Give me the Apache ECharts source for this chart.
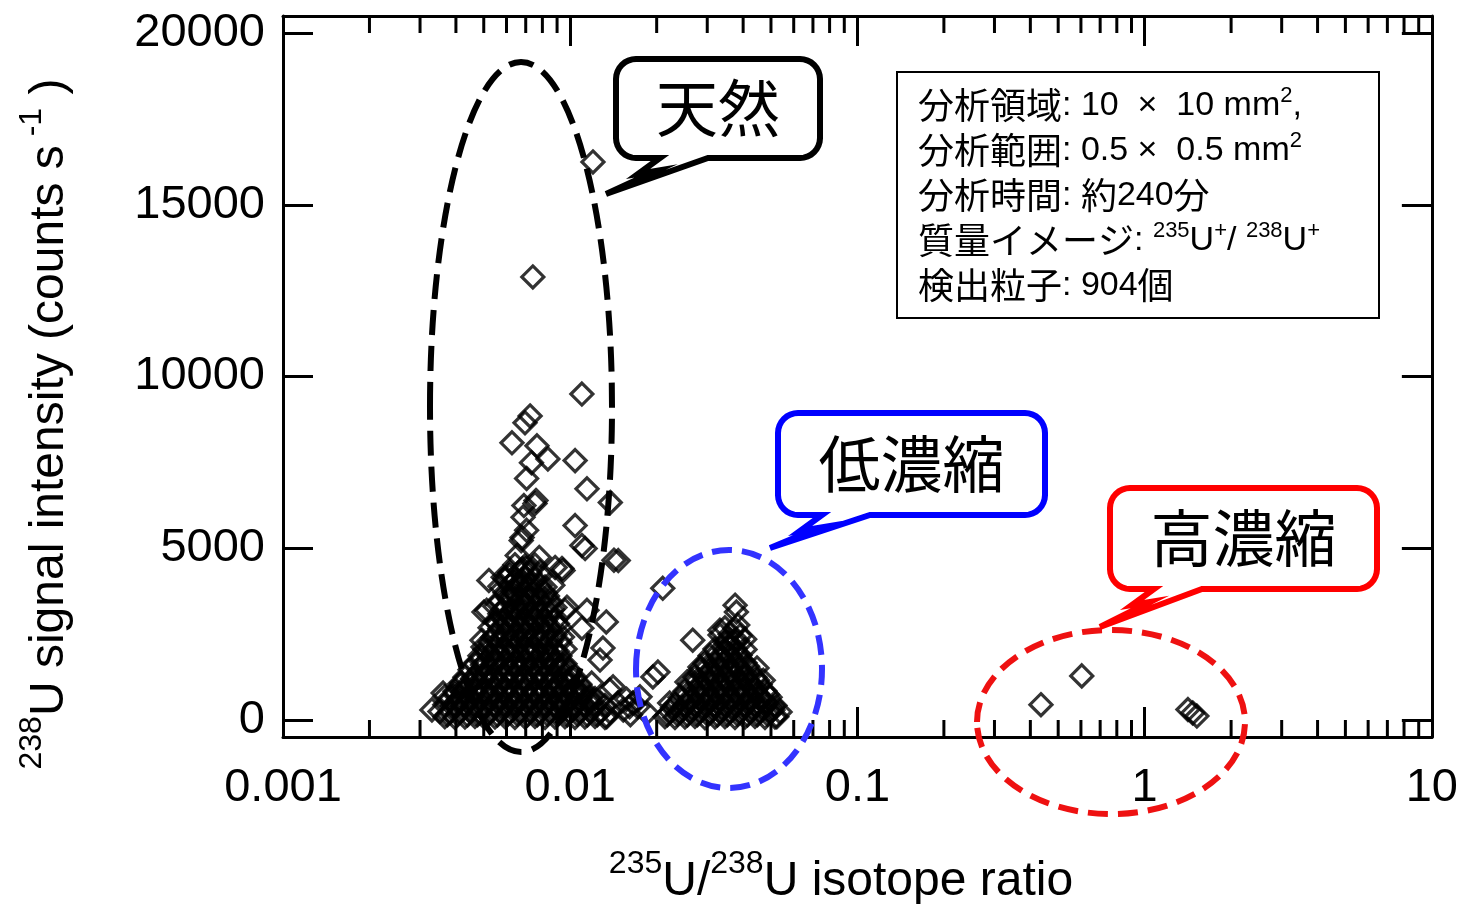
<!DOCTYPE html>
<html><head><meta charset="utf-8">
<script src="https://cdn.jsdelivr.net/npm/echarts@6/dist/echarts.min.js"></script>
<style>html,body{margin:0;padding:0;background:#fff}#c{width:1461px;height:904px}</style>
</head><body><div id="c"></div>
<script>
const xTickLabels = ['0.001', '0.01', '0.1', '1', '10'];
const yTickLabels = ['0', '5000', '10000', '15000', '20000'];

// natural uranium particles: scattered outliers
const naturalOutliers = [
  [0.0120,16250],[0.00741,12900],[0.01098,9490],[0.00725,8850],[0.00696,8650],[0.00627,8070],
  [0.00766,7980],[0.00836,7600],[0.0104,7550],[0.00733,7490],[0.00705,7030],[0.01144,6730],
  [0.00760,6390],[0.00754,6300],[0.01379,6330],[0.00690,6240],[0.00685,5900],[0.0104,5660],
  [0.00705,5520],[0.00680,5310],[0.01127,4990],[0.01098,5080],[0.00675,5220],[0.0078,4730],
  [0.00654,4790],[0.01470,4640],[0.01420,4650],[0.00936,4410],[0.00886,4440],[0.00613,4210],
  [0.00944,4350],[0.0087,3920],[0.00521,4060],[0.00584,4150],[0.00501,3140],[0.00512,3190],
  [0.00974,3280],[0.00959,3190],[0.01144,3190],[0.01098,2670],[0.01335,2850],[0.01300,2090],
  [0.00497,2120],[0.00493,2320],[0.00485,1740],[0.0127,1740],[0.01188,1070],[0.0141,960],
  [0.01371,870],[0.01463,490],[0.01651,490],[0.0153,290],[0.0134,90],[0.00330,290],
  [0.00361,780],[0.00420,1070],[0.00366,680],[0.0157,600],[0.0172,380],[0.0185,200],[0.0162,150]
];
// natural uranium particles: dense core
const naturalCore = [
  [0.00642,4520],[0.00696,4480],[0.00754,4510],
  [0.00617,4290],[0.00669,4320],[0.00724,4280],[0.00785,4310],
  [0.00593,4110],[0.00642,4080],[0.00696,4120],[0.00754,4090],
  [0.00569,3890],[0.00617,3920],[0.00669,3880],[0.00724,3910],[0.00785,3900],[0.00817,3870],
  [0.00593,3700],[0.00642,3680],[0.00696,3710],[0.00754,3670],[0.00817,3700],
  [0.00569,3480],[0.00617,3500],[0.00669,3470],[0.00724,3510],[0.00785,3490],[0.00850,3460],
  [0.00547,3300],[0.00593,3270],[0.00642,3290],[0.00696,3310],[0.00754,3280],[0.00817,3300],[0.00885,3270],
  [0.00569,3090],[0.00617,3070],[0.00669,3100],[0.00724,3060],[0.00785,3080],[0.00850,3090],
  [0.00547,2870],[0.00593,2890],[0.00642,2860],[0.00696,2900],[0.00754,2880],[0.00817,2870],[0.00885,2890],
  [0.00526,2680],[0.00569,2660],[0.00617,2690],[0.00669,2670],[0.00724,2650],[0.00785,2680],[0.00850,2660],[0.00921,2690],
  [0.00547,2460],[0.00593,2480],[0.00642,2450],[0.00696,2490],[0.00754,2470],[0.00817,2460],[0.00885,2480],
  [0.00526,2270],[0.00569,2250],[0.00617,2280],[0.00669,2260],[0.00724,2240],[0.00785,2270],[0.00850,2250],[0.00921,2260],
  [0.00505,2050],[0.00547,2070],[0.00593,2040],[0.00642,2080],[0.00696,2060],[0.00754,2050],[0.00817,2070],[0.00885,2040],[0.00959,2060],
  [0.00485,1870],[0.00526,1850],[0.00569,1880],[0.00617,1860],[0.00669,1840],[0.00724,1870],[0.00785,1850],[0.00850,1880],[0.00921,1860],
  [0.00466,1640],[0.00505,1660],[0.00547,1650],[0.00593,1630],[0.00642,1670],[0.00696,1650],[0.00754,1640],[0.00817,1660],[0.00885,1650],[0.00959,1630],
  [0.00448,1460],[0.00485,1440],[0.00526,1450],[0.00569,1470],[0.00617,1430],[0.00669,1450],[0.00724,1460],[0.00785,1440],[0.00850,1450],[0.00921,1470],[0.00998,1440],
  [0.00430,1240],[0.00466,1260],[0.00505,1250],[0.00547,1230],[0.00593,1270],[0.00642,1250],[0.00696,1240],[0.00754,1260],[0.00817,1250],[0.00885,1230],[0.00959,1260],[0.01039,1240],
  [0.00413,1050],[0.00448,1030],[0.00485,1040],[0.00526,1060],[0.00569,1020],[0.00617,1040],[0.00669,1050],[0.00724,1030],[0.00785,1040],[0.00850,1060],[0.00921,1030],[0.00998,1050],[0.01081,1040],
  [0.00397,830],[0.00430,850],[0.00466,840],[0.00505,820],[0.00547,860],[0.00593,840],[0.00642,830],[0.00696,850],[0.00754,840],[0.00817,820],[0.00885,850],[0.00959,840],[0.01039,830],[0.01125,850],
  [0.00382,650],[0.00413,630],[0.00448,640],[0.00485,660],[0.00526,620],[0.00569,640],[0.00617,650],[0.00669,630],[0.00724,640],[0.00785,660],[0.00850,630],[0.00921,640],[0.00998,650],[0.01081,630],[0.01172,640],[0.01220,620],
  [0.00366,440],[0.00397,420],[0.00430,430],[0.00466,450],[0.00505,410],[0.00547,430],[0.00593,440],[0.00642,420],[0.00696,430],[0.00754,450],[0.00817,420],[0.00885,430],[0.00959,440],[0.01039,420],[0.01125,430],[0.01220,450],[0.01321,420],
  [0.00352,240],[0.00382,220],[0.00413,230],[0.00448,250],[0.00485,210],[0.00526,230],[0.00569,240],[0.00617,220],[0.00669,230],[0.00724,250],[0.00785,220],[0.00850,230],[0.00921,240],[0.00998,220],[0.01081,230],[0.01172,250],[0.01270,220],[0.01375,230],
  [0.00366,90],[0.00397,70],[0.00430,80],[0.00466,100],[0.00505,60],[0.00547,80],[0.00593,90],[0.00642,70],[0.00696,80],[0.00754,100],[0.00817,70],[0.00885,80],[0.00959,90],[0.01039,70],[0.01125,80],[0.01220,100],[0.01321,70],
  [0.00669,4000],[0.00724,3790],[0.00617,3600],[0.00696,3390],[0.00642,3180],[0.00754,2980],[0.00593,2780],[0.00696,2570],[0.00785,2360],[0.00617,2160],
  [0.00724,1960],[0.00547,1760],[0.00850,1760],[0.00642,1550],[0.00921,1550],[0.00505,1350],[0.00785,1350],[0.00466,1150],[0.00696,1150],[0.00959,1150],
  [0.00430,940],[0.00593,940],[0.00885,940],[0.01039,940],[0.00397,740],[0.00526,740],[0.00754,740],[0.01081,740],[0.00413,530],[0.00642,530],[0.00921,530],[0.01172,530],
  [0.00682,4400],[0.00739,4400],
  [0.00630,4000],[0.00682,4010],[0.00739,3990],
  [0.00605,3600],[0.00655,3610],[0.00710,3590],[0.00769,3600],[0.00833,3610],
  [0.00581,3200],[0.00630,3190],[0.00682,3210],[0.00739,3200],[0.00801,3190],[0.00868,3210],
  [0.00558,2800],[0.00605,2810],[0.00655,2790],[0.00710,2800],[0.00769,2810],[0.00833,2790],[0.00903,2800],
  [0.00537,2400],[0.00581,2410],[0.00630,2390],[0.00682,2400],[0.00739,2410],[0.00801,2390],[0.00868,2400],[0.00940,2410],
  [0.00515,2000],[0.00558,1990],[0.00605,2010],[0.00655,2000],[0.00710,1990],[0.00769,2010],[0.00833,2000],[0.00903,1990],
  [0.00495,1600],[0.00537,1610],[0.00581,1590],[0.00630,1600],[0.00682,1610],[0.00739,1590],[0.00801,1600],[0.00868,1610],[0.00940,1590],
  [0.00457,1200],[0.00495,1210],[0.00537,1190],[0.00581,1200],[0.00630,1210],[0.00682,1190],[0.00739,1200],[0.00801,1210],[0.00868,1190],[0.00940,1200],[0.01018,1210],
  [0.00422,800],[0.00457,810],[0.00495,790],[0.00537,800],[0.00581,810],[0.00630,790],[0.00682,800],[0.00739,810],[0.00801,790],[0.00868,800],[0.00940,810],[0.01018,790],[0.01103,800],
  [0.00389,400],[0.00422,410],[0.00457,390],[0.00495,400],[0.00537,410],[0.00581,390],[0.00630,400],[0.00682,410],[0.00739,390],[0.00801,400],[0.00868,410],[0.00940,390],[0.01018,400],[0.01103,410],[0.01195,390],
  [0.00374,150],[0.00405,160],[0.00439,140],[0.00476,150],[0.00515,160],[0.00558,140],[0.00605,150],[0.00655,160],[0.00710,140],[0.00769,150],[0.00833,160],[0.00903,140],[0.00978,150],[0.01060,160],[0.01148,140],[0.01244,150]
];
// low-enriched particles
const lowOutliers = [
  [0.0210,3830],[0.0375,3340],[0.0379,3140],[0.0383,2760],[0.0332,2610],[0.0267,2320],
  [0.0447,1510],[0.0283,1540],[0.0202,1390],[0.0194,1250],[0.0222,490],[0.0175,670],
  [0.0161,380],[0.0508,290],[0.0524,90],[0.0405,2350],[0.0255,1100],[0.0470,1150]
];
const lowCore = [
  [0.03458,2680],[0.03747,2650],
  [0.03324,2470],[0.03602,2490],[0.03902,2450],
  [0.03458,2260],[0.03747,2270],
  [0.03192,2060],[0.03458,2040],[0.03747,2070],[0.04060,2050],
  [0.03068,1870],[0.03324,1850],[0.03602,1860],[0.03902,1880],
  [0.02946,1640],[0.03192,1660],[0.03458,1650],[0.03747,1630],[0.04060,1660],
  [0.02831,1460],[0.03068,1440],[0.03324,1450],[0.03602,1470],[0.03902,1440],[0.04228,1450],
  [0.02719,1240],[0.02946,1260],[0.03192,1250],[0.03458,1230],[0.03747,1270],[0.04060,1250],[0.04399,1240],
  [0.02613,1050],[0.02831,1030],[0.03068,1040],[0.03324,1060],[0.03602,1020],[0.03902,1040],[0.04228,1050],[0.04581,1030],
  [0.02509,830],[0.02719,850],[0.02946,840],[0.03192,820],[0.03458,860],[0.03747,840],[0.04060,830],[0.04399,850],[0.04766,840],
  [0.02412,650],[0.02613,630],[0.02831,640],[0.03068,660],[0.03324,620],[0.03602,640],[0.03902,650],[0.04228,630],[0.04581,640],[0.04964,660],
  [0.02316,440],[0.02509,420],[0.02719,430],[0.02946,450],[0.03192,410],[0.03458,430],[0.03747,440],[0.04060,420],[0.04399,430],[0.04766,450],[0.05164,420],
  [0.02226,240],[0.02412,220],[0.02613,230],[0.02831,250],[0.03068,210],[0.03324,230],[0.03602,240],[0.03902,220],[0.04228,230],[0.04581,250],[0.04964,220],[0.05378,230],
  [0.02138,90],[0.02316,70],[0.02509,80],[0.02719,100],[0.02946,60],[0.03192,80],[0.03458,90],[0.03747,70],[0.04060,80],[0.04399,100],[0.04766,70],[0.05164,80],
  [0.03602,2170],[0.03324,1760],[0.03902,1760],[0.03068,1350],[0.03602,1350],[0.04060,1350],[0.02831,940],[0.03324,940],[0.03902,940],[0.04399,940],
  [0.02613,530],[0.03068,530],[0.03602,530],[0.04228,530],[0.04766,530],
  [0.03528,2300],[0.03823,2310],
  [0.03256,1950],[0.03528,1960],[0.03823,1940],
  [0.03005,1550],[0.03256,1560],[0.03528,1540],[0.03823,1550],[0.04142,1560],
  [0.02774,1150],[0.03005,1160],[0.03256,1140],[0.03528,1150],[0.03823,1160],[0.04142,1140],[0.04488,1150],
  [0.02560,750],[0.02774,760],[0.03005,740],[0.03256,750],[0.03528,760],[0.03823,740],[0.04142,750],[0.04488,760],[0.04862,740],
  [0.02271,350],[0.02461,360],[0.02666,340],[0.02888,350],[0.03130,360],[0.03391,340],[0.03675,350],[0.03981,360],[0.04313,340],[0.04674,350],[0.05064,360],
  [0.02181,150],[0.02363,160],[0.02560,140],[0.02774,150],[0.03005,160],[0.03256,140],[0.03528,150],[0.03823,160],[0.04142,140],[0.04488,150],[0.04862,160]
];
// high-enriched particles
const highEnriched = [[0.4355,440],[0.604,1280],[1.415,300],[1.47,200],[1.52,110]];

const minorMultipliers = [2, 3, 4, 5, 6, 7, 8, 9];
const decades = [0.001, 0.01, 0.1, 1];

const FONT = "'Liberation Sans', Arial, sans-serif";
const CJK = "'Noto Sans CJK JP', sans-serif";

const chart = echarts.init(document.getElementById('c'), null, {renderer: 'canvas'});

const axisLine = {show: true, onZero: false, lineStyle: {color: '#000', width: 3}};
const markerStyle = {color: 'rgba(0,0,0,0)', borderColor: '#000', borderWidth: 3.2};
function scatter(name, data) {
  return {name, type: 'scatter', data, symbol: 'diamond', symbolSize: 22,
    itemStyle: markerStyle, emphasis: {disabled: true}, silent: true, z: 3};
}

const option = {
  animation: false,
  backgroundColor: '#fff',
  grid: {left: 283, right: 29, top: 16, bottom: 167, containLabel: false},
  xAxis: [
    {type: 'log', logBase: 10, min: 0.001, max: 10, position: 'bottom',
     axisLine, splitLine: {show: false},
     axisTick: {show: true, inside: true, length: 30, lineStyle: {color: '#000', width: 3}},
     axisLabel: {show: true, margin: 28, color: '#000', fontSize: 47, fontFamily: FONT,
       formatter: v => { const i = Math.round(Math.log10(v)) + 3; return xTickLabels[i] ?? ''; }}},
    {type: 'log', logBase: 10, min: 0.001, max: 10, position: 'top',
     axisLine, splitLine: {show: false},
     axisTick: {show: true, inside: true, length: 30, lineStyle: {color: '#000', width: 3}},
     axisLabel: {show: false}}
  ],
  yAxis: [
    {type: 'value', min: -500, max: 20500, splitNumber: 4, position: 'left',
     axisLine, splitLine: {show: false},
     axisTick: {show: true, inside: true, length: 30, lineStyle: {color: '#000', width: 3}},
     axisLabel: {show: true, margin: 18, color: '#000', fontSize: 47, fontFamily: FONT,
       showMinLabel: false, showMaxLabel: false,
       formatter: v => (v % 5000 === 0 && v >= 0 && v <= 20000) ? yTickLabels[v / 5000] : ''}},
    {type: 'value', min: -500, max: 20500, splitNumber: 4, position: 'right',
     axisLine, splitLine: {show: false},
     axisTick: {show: true, inside: true, length: 30, lineStyle: {color: '#000', width: 3}},
     axisLabel: {show: false}}
  ],
  series: [
    scatter('natural', naturalCore.concat(naturalOutliers)),
    scatter('low', lowCore.concat(lowOutliers)),
    scatter('high', highEnriched)
  ]
};
chart.setOption(option);

// ---- decorations: minor log ticks, annotations ----
const g = [];
const yBot = chart.convertToPixel({yAxisIndex: 0}, -500);
const yTop = chart.convertToPixel({yAxisIndex: 0}, 20500);
decades.forEach(d => minorMultipliers.forEach(m => {
  const px = chart.convertToPixel({xAxisIndex: 0}, m * d);
  g.push({type: 'line', shape: {x1: px, y1: yBot, x2: px, y2: yBot - 17}, style: {stroke: '#000', lineWidth: 3}, z: 10, silent: true});
  g.push({type: 'line', shape: {x1: px, y1: yTop, x2: px, y2: yTop + 17}, style: {stroke: '#000', lineWidth: 3}, z: 10, silent: true});
}));

function ellipse(cx, cy, rx, ry, color, dash) {
  return {type: 'ellipse', shape: {cx, cy, rx, ry}, z: 20, silent: true,
    style: {fill: 'none', stroke: color, lineWidth: 6, lineDash: dash}};
}
g.push(ellipse(521, 407, 91, 345, '#000', [25, 11]));
g.push(ellipse(729, 669, 93, 119, '#3333ff', [20, 10]));
g.push(ellipse(1111, 722, 134, 92, '#ee1111', [20, 10]));

function arc(pts, cx, cy, r, a0, a1) {
  const n = 8;
  for (let i = 0; i <= n; i++) {
    const a = a0 + (a1 - a0) * i / n;
    pts.push([cx + r * Math.cos(a), cy + r * Math.sin(a)]);
  }
}
function callout(x, y, w, h, r, tip, color, text, fs) {
  const b = y + h, P = Math.PI;
  const pts = [];
  arc(pts, x + r, y + r, r, P, 1.5 * P);          // top-left
  arc(pts, x + w - r, y + r, r, 1.5 * P, 2 * P);  // top-right
  arc(pts, x + w - r, b - r, r, 0, 0.5 * P);      // bottom-right
  pts.push([x + 92, b], tip, [x + 40, b + 13], [x + 22, b + 16], [x + 44, b]);
  arc(pts, x + r, b - r, r, 0.5 * P, P);          // bottom-left
  g.push({type: 'polygon', shape: {points: pts}, z: 30, silent: true,
    style: {fill: '#fff', stroke: color, lineWidth: 6, lineJoin: 'miter'}});
  g.push({type: 'text', x: x + w / 2, y: y + h / 2, z: 31, silent: true,
    style: {text, fill: '#000', font: `${fs}px ${CJK}`, align: 'center', verticalAlign: 'middle'}});
}
callout(616, 59, 204, 99, 20, [606, 194], '#000', '天然', 62);
callout(778, 413, 267, 102, 20, [770, 548], '#0000ff', '低濃縮', 62);
callout(1110, 488, 267, 101, 20, [1100, 627], '#ff0000', '高濃縮', 62);

// info box
g.push({type: 'rect', shape: {x: 897, y: 72, width: 482, height: 246}, z: 30, silent: true,
  style: {fill: '#fff', stroke: '#000', lineWidth: 2}});
const infoRich = {
  c: {fontFamily: CJK, fontSize: 36, lineHeight: 45, fill: '#000'},
  l: {fontFamily: FONT, fontSize: 34, lineHeight: 45, fill: '#000'},
  s: {fontFamily: FONT, fontSize: 22, lineHeight: 26, height: 26, verticalAlign: 'top', fill: '#000'}
};
g.push({type: 'text', x: 918, y: 83, z: 31, silent: true,
  style: {
    text: [
      '{c|分析領域}{l|: 10  ×  10 mm}{s|2}{l|,}',
      '{c|分析範囲}{l|: 0.5 ×  0.5 mm}{s|2}',
      '{c|分析時間}{l|: }{c|約}{l|240}{c|分}',
      '{c|質量イメージ}{l|: }{s|235}{l|U}{s|+}{l|/ }{s|238}{l|U}{s|+}',
      '{c|検出粒子}{l|: 904}{c|個}'
    ].join('\n'),
    rich: infoRich, align: 'left', verticalAlign: 'top'
  }});

// axis titles
const titleRich = {
  m: {fontFamily: FONT, fontSize: 48, lineHeight: 62, fill: '#000'},
  s: {fontFamily: FONT, fontSize: 32, lineHeight: 26, height: 26, verticalAlign: 'top', fill: '#000'}
};
g.push({type: 'text', x: 841, y: 882, z: 31, silent: true,
  style: {text: '{s|235}{m|U/}{s|238}{m|U isotope ratio}', rich: titleRich, align: 'center', verticalAlign: 'middle'}});
g.push({type: 'text', x: 50, y: 424, rotation: Math.PI / 2, z: 31, silent: true,
  style: {text: '{s|238}{m|U signal intensity (counts s}{s| -1}{m| )}', rich: titleRich, align: 'center', verticalAlign: 'middle'}});

chart.setOption({graphic: g});
</script>
</body></html>
